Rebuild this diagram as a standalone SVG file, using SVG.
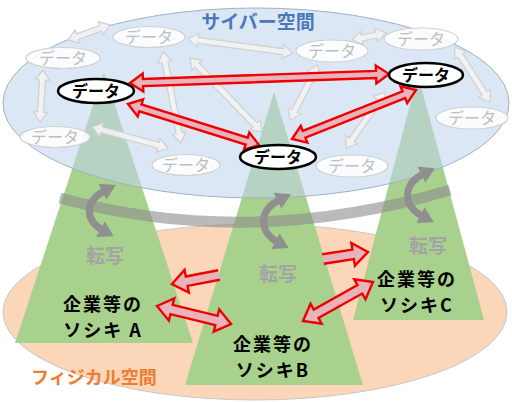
<svg xmlns="http://www.w3.org/2000/svg" width="512" height="402" viewBox="0 0 512 402">
<defs>
<style>
.jp{font-family:"Noto Sans CJK JP","Noto Sans",sans-serif;}
.pyr{fill:#a9d18e;}
.lbl{font-size:18px;font-weight:bold;fill:#000;text-anchor:middle;letter-spacing:2px;}
.ten{font-size:19px;font-weight:bold;fill:#a3a3a3;text-anchor:middle;}
.gn ellipse{fill:#fff;fill-opacity:.85;stroke:#d0d0d0;stroke-width:1.2;}
.gn text{font-size:16px;fill:#bdbdbd;text-anchor:middle;}
.bn ellipse{fill:#fff;stroke:#000;stroke-width:2.5;}
.bn text{font-size:16px;font-weight:bold;fill:#000;text-anchor:middle;}
.ra{fill:#e8b3bb;stroke:#f00000;stroke-width:2.4;stroke-linejoin:miter;}
.ga{fill:#f3f3f3;fill-opacity:.9;stroke:#d2d2d2;stroke-width:1.3;}
.cv{fill:none;stroke:#8f8f8f;stroke-width:7;marker-start:url(#ch);marker-end:url(#ch);}
</style>
<marker id="ch" markerUnits="userSpaceOnUse" viewBox="0 0 15 18" markerWidth="15" markerHeight="18" refX="4" refY="9" orient="auto-start-reverse">
<path d="M0,0 L15,9 L0,18 z" fill="#8f8f8f"/>
</marker>
</defs>

<g id="physical-space">
<ellipse cx="255" cy="312" rx="252" ry="88" fill="#fcd6b8" stroke="#c8c8c8" stroke-width="1"/>
<text class="jp" x="31" y="384" font-size="18" font-weight="bold" fill="#ed7d31">フィジカル空間</text>
</g>

<g id="org-A">
<polygon class="pyr" points="104,72 15,343 193,343"/>
</g>
<g id="org-C">
<polygon class="pyr" points="418,75 353,320 484,320"/>
</g>
<g id="org-B">
<polygon class="pyr" points="274,92 185,385 363,385"/>
</g>

<g id="cyber-space">
<ellipse cx="256" cy="103" rx="253" ry="95" fill="rgb(192,212,236)" fill-opacity=".55" stroke="#9fb2c6" stroke-width="1"/>
<text class="jp" x="258" y="29" font-size="19" font-weight="bold" fill="#4a78be" text-anchor="middle">サイバー空間</text>
</g>

<g id="connectors">
<path id="band" d="M60,198 Q250,250 450,190" fill="none" stroke="#8c8c8c" stroke-opacity=".6" stroke-width="11"/>
<path class="cv" d="M106,190 C84,201 84,220 104,231"/>
<path class="cv" d="M281,199 C258,210 258,232 279,243"/>
<path class="cv" d="M425,173 C402,184 402,206 424,217"/>

<polygon class="ga" transform="translate(68,40) rotate(-19.65)" points="0,0 10,-7 10,-3 34.6,-3 34.6,-7 44.6,0 34.6,7 34.6,3 10,3 10,7"/>
<polygon class="ga" transform="translate(188,39) rotate(7.59)" points="0,0 10,-7 10,-3 95.9,-3 95.9,-7 105.9,0 95.9,7 95.9,3 10,3 10,7"/>
<polygon class="ga" transform="translate(163,52) rotate(78.81)" points="0,0 10,-7 10,-3 82.8,-3 82.8,-7 92.8,0 82.8,7 82.8,3 10,3 10,7"/>
<polygon class="ga" transform="translate(43,70) rotate(93.3)" points="0,0 10,-7 10,-3 42.1,-3 42.1,-7 52.1,0 42.1,7 42.1,3 10,3 10,7"/>
<polygon class="ga" transform="translate(92,127) rotate(15.45)" points="0,0 10,-7 10,-3 68.8,-3 68.8,-7 78.8,0 68.8,7 68.8,3 10,3 10,7"/>
<polygon class="ga" transform="translate(190,58) rotate(45.78)" points="0,0 10,-7 10,-3 93.2,-3 93.2,-7 103.2,0 93.2,7 93.2,3 10,3 10,7"/>
<polygon class="ga" transform="translate(352,40) rotate(-11.6)" points="0,0 10,-7 10,-3 24.7,-3 24.7,-7 34.7,0 24.7,7 24.7,3 10,3 10,7"/>
<polygon class="ga" transform="translate(455,47) rotate(57.5)" points="0,0 10,-7 10,-3 55.2,-3 55.2,-7 65.2,0 55.2,7 55.2,3 10,3 10,7"/>
<polygon class="ga" transform="translate(318,65) rotate(117)" points="0,0 10,-7 10,-3 51.7,-3 51.7,-7 61.7,0 51.7,7 51.7,3 10,3 10,7"/>
<polygon class="ga" transform="translate(346,148) rotate(-55.1)" points="0,0 10,-7 10,-3 58.2,-3 58.2,-7 68.2,0 58.2,7 58.2,3 10,3 10,7"/>
</g>

<g id="data-1" class="gn jp"><ellipse cx="149" cy="37" rx="36" ry="10.5"/><text x="149" y="43">データ</text></g>
<g id="data-2" class="gn jp"><ellipse cx="63" cy="58" rx="37" ry="10.5"/><text x="63" y="64">データ</text></g>
<g id="data-3" class="gn jp"><ellipse cx="55" cy="137" rx="35" ry="10.5"/><text x="55" y="143">データ</text></g>
<g id="data-4" class="gn jp"><ellipse cx="186" cy="165" rx="34" ry="10.5"/><text x="186" y="171">データ</text></g>
<g id="data-5" class="gn jp"><ellipse cx="332" cy="51" rx="36" ry="11"/><text x="332" y="57">データ</text></g>
<g id="data-6" class="gn jp"><ellipse cx="421" cy="39" rx="37" ry="11"/><text x="421" y="45">データ</text></g>
<g id="data-7" class="gn jp"><ellipse cx="472" cy="118" rx="36" ry="11"/><text x="472" y="124">データ</text></g>
<g id="data-8" class="gn jp"><ellipse cx="352" cy="166" rx="36" ry="11"/><text x="352" y="172">データ</text></g>

<g id="connectors-red">
<polygon class="ra" transform="translate(130,83) rotate(-1.99)" points="0,0 13,-9 13,-3.6 246.2,-3.6 246.2,-9 259.2,0 246.2,9 246.2,3.6 13,3.6 13,9"/>
<polygon class="ra" transform="translate(128,104) rotate(17.38)" points="0,0 13,-9 13,-3.6 124.3,-3.6 124.3,-9 137.3,0 124.3,9 124.3,3.6 13,3.6 13,9"/>
<polygon class="ra" transform="translate(292,139) rotate(-21.56)" points="0,0 13,-9 13,-3.6 120.3,-3.6 120.3,-9 133.3,0 120.3,9 120.3,3.6 13,3.6 13,9"/>
<path class="ra" transform="translate(219,275) rotate(169.16)" d="M0,-4.8 L32.9,-4.8 L32.9,-11.5 L47.9,0 L32.9,11.5 L32.9,4.8 L0,4.8"/>
<path class="ra" transform="translate(323,259) rotate(-8.84)" d="M0,-4.8 L30.5,-4.8 L30.5,-11.5 L45.5,0 L30.5,11.5 L30.5,4.8 L0,4.8"/>
<polygon class="ra" transform="translate(157,306) rotate(13.67)" points="0,0 15,-11.5 15,-4.8 61.2,-4.8 61.2,-11.5 76.2,0 61.2,11.5 61.2,4.8 15,4.8 15,11.5"/>
<polygon class="ra" transform="translate(303,321) rotate(-29.12)" points="0,0 15,-11.5 15,-4.8 65.1,-4.8 65.1,-11.5 80.1,0 65.1,11.5 65.1,4.8 15,4.8 15,11.5"/>
</g>

<g id="data-A" class="bn jp"><ellipse cx="96" cy="91" rx="38" ry="12"/><text x="96" y="97">データ</text></g>
<g id="data-B" class="bn jp"><ellipse cx="278" cy="157" rx="38" ry="12"/><text x="278" y="163">データ</text></g>
<g id="data-C" class="bn jp"><ellipse cx="426" cy="75" rx="37" ry="12"/><text x="426" y="81">データ</text></g>

<g id="labels" class="jp">
<text class="ten" x="105" y="263">転写</text>
<text class="ten" x="278" y="281">転写</text>
<text class="ten" x="428" y="253">転写</text>
<text class="lbl" x="103" y="311">企業等の</text>
<text class="lbl" x="103" y="337">ソシキ A</text>
<text class="lbl" x="273" y="351">企業等の</text>
<text class="lbl" x="273" y="377">ソシキB</text>
<text class="lbl" x="417" y="286">企業等の</text>
<text class="lbl" x="417" y="312">ソシキC</text>
</g>
</svg>
